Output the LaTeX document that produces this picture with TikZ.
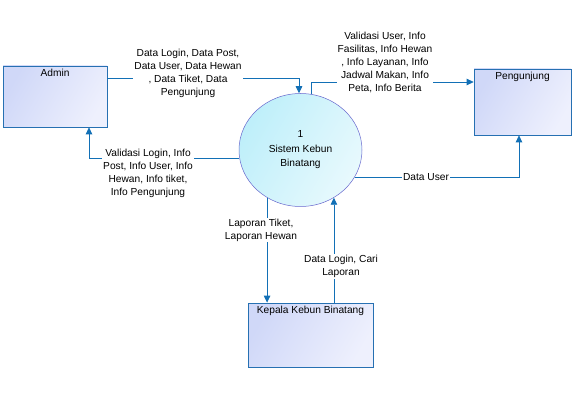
\documentclass[tikz,border=0pt]{standalone}
\usepackage{fontspec}
\setmainfont{Liberation Sans}
\usetikzlibrary{arrows.meta,shapes.geometric}
\definecolor{flowblue}{RGB}{18,112,182}
\definecolor{boxline}{RGB}{38,112,178}
\definecolor{boxdark}{RGB}{208,216,248}
\definecolor{boxlight}{RGB}{238,240,253}
\definecolor{procline}{RGB}{104,104,206}
\definecolor{procdark}{RGB}{190,239,250}
\definecolor{proclight}{RGB}{232,249,253}

\begin{document}
\begin{tikzpicture}[x=1pt, y=-1pt,
		font=\fontsize{10.2}{13}\selectfont,
		entity/.style={draw=boxline, line width=0.7pt, rectangle, inner sep=0pt,
			left color=boxdark, right color=boxlight, shading angle=60},
		process/.style={draw=procline, line width=0.5pt, ellipse, inner sep=0pt,
			minimum width=123pt, minimum height=113pt, align=center,
			left color=procdark, right color=proclight, shading angle=60,
			font=\fontsize{10.2}{14.5}\selectfont},
		flow/.style={draw=flowblue, line width=0.8pt, -{Triangle[length=7pt,width=6.5pt]}},
		flowtext/.style={fill=white, align=center, inner sep=1pt}]
		%%%%% START %%%%%
		
		\useasboundingbox[fill=white] (0,0) rectangle (579,401);
		
		\node[entity, minimum width=104pt, minimum height=61pt,
			label={[anchor=north, inner sep=3pt]north:Admin}] (admin) at (55,96.5) {};
		\node[entity, minimum width=97pt, minimum height=66pt,
			label={[anchor=north, inner sep=3pt]north:Pengunjung}] (peng) at (522.5,102) {};
		\node[entity, minimum width=125pt, minimum height=64pt,
			label={[anchor=north, inner sep=3pt]north:Kepala Kebun Binatang}] (kepala) at (310.5,335) {};
		
		\node[process] (proc) at (300.5,150) {1\\Sistem Kebun\\Binatang};
		
		% admin <-> sistem
		\draw[flow] ([yshift=18.5pt]admin.east) -| ([xshift=-1.5pt]proc.north);
		\node[flowtext] (lbadmin) at (188,73) {Data Login, Data Post,\\Data User, Data Hewan\\, Data Tiket, Data\\Pengunjung};
		
		\draw[flow] (proc.188) -| ([xshift=34pt]admin.south);
		\node[flowtext] (lbvalid) at (148,173.5) {Validasi Login, Info\\Post, Info User, Info\\Hewan, Info tiket,\\Info Pengunjung};
		
		% sistem <-> pengunjung
		\draw[flow] (proc.79) |- ([yshift=20pt]peng.west);
		\node[flowtext] (lbinfo) at (385,62) {Validasi User, Info\\Fasilitas, Info Hewan\\, Info Layanan, Info\\Jadwal Makan, Info\\Peta, Info Berita};
		
		\draw[flow] (proc.333) -| ([xshift=-3.5pt]peng.south);
		\node[flowtext] (lbuser) at (426,177) {Data User};
		
		% sistem <-> kepala
		\draw[flow] (proc.235) -- (proc.235 |- kepala.north);
		\node[flowtext] (lblapor) at (261,230) {Laporan Tiket,\\Laporan Hewan};
		
		\draw[flow] (proc.305 |- kepala.north) -- (proc.305);
		\node[flowtext] (lbcari) at (341,266.5) {Data Login, Cari\\Laporan};
		
		%%%%% END %%%%%
	\end{tikzpicture}
\end{document}
